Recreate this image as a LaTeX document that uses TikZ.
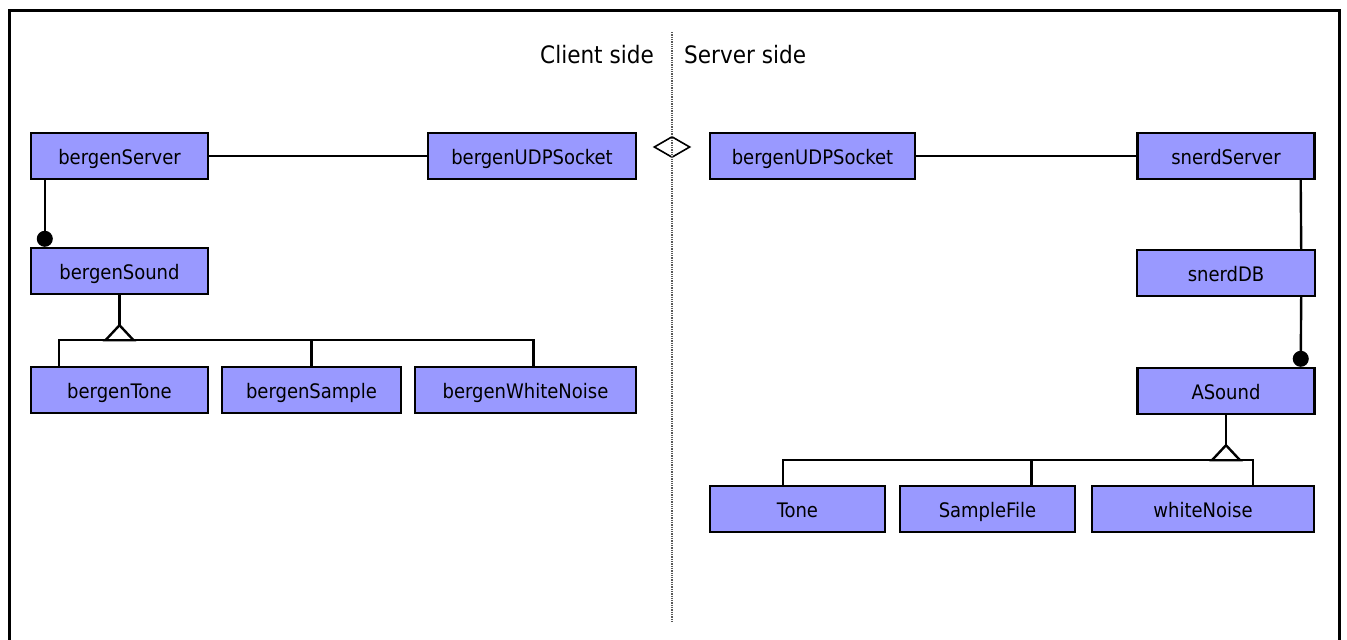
\documentclass[tikz,border=0pt]{standalone}
\usepackage{fontspec}
\setmainfont{DejaVu Sans Condensed}
\usetikzlibrary{arrows.meta, shapes.geometric}
\definecolor{classblue}{RGB}{153,153,255}
\begin{document}
\begin{tikzpicture}[x = 1pt, y = -1pt, line width = 2.4pt,
		cls/.style = {draw, fill = classblue, minimum height = 46pt, inner sep = 0pt, text height = 18pt, text depth = 2pt, font = \fontsize{20}{23}\selectfont},
		owns/.style = {-{Circle[length = 16pt]}},
		side/.style = {inner sep = 0pt, font = \fontsize{24}{28}\selectfont}]
	\useasboundingbox (0, 0) rectangle (1347, 640);
	\draw[line width = 3pt] (9, 641) |- (1339, 10) -- (1339, 641);
	% client side
	\foreach \n/\x/\y/\w/\t in {srv/119.5/156/177/bergenServer, cudp/532/156/208/bergenUDPSocket,
		sound/119.5/271/177/bergenSound, tone/119.5/390/177/bergenTone,
		sample/311.5/390/179/bergenSample, wnoise/525.5/390/221/bergenWhiteNoise}
	\node[cls, minimum width = \w pt] (\n) at (\x, \y) {\t};
	% server side
	\foreach \n/\x/\y/\w/\t in {sudp/812.5/156/205/bergenUDPSocket, snerd/1226/156/177/snerdServer,
		sdb/1226/273/178/snerdDB, asound/1226/391/177/ASound,
		stone/797.5/509/175/Tone, sfile/987.5/509/175/SampleFile, swnoise/1203/509/222/whiteNoise}
	\node[cls, minimum width = \w pt] (\n) at (\x, \y) {\t};
	\node[side, anchor = base east] (client) at (655, 63) {Client side};
	\node[side, anchor = base west] (server) at (683, 63) {Server side};
	\node[draw, diamond, fill = white, line width = 1.6pt, minimum width = 36pt, minimum height = 21pt, inner sep = 0pt] (link) at (672, 147) {};
	\draw[densely dotted, gray!70!black, line width = 1.3pt] (672, 32) -- (672, 621);
	% client connectors
	\draw (srv) -- (cudp);
	\draw[owns] ([xshift = 15pt]srv.south west) -- ([xshift = 15pt]sound.north west);
	\path (sound.south) ++(0, 30) coordinate (lapex) ++(0, 15) coordinate (lbus);
	\draw (sound) -- (lapex);
	\draw ([xshift = 29pt]tone.north west) |- ([xshift = 8pt]wnoise.north |- lbus) -- ([xshift = 8pt]wnoise.north);
	\draw (sample) -- (sample |- lbus);
	\draw[fill = white] (lapex) -- ++(-14, 15) -- ++(28, 0) -- cycle;
	% server connectors
	\draw (sudp) -- (snerd);
	\draw ([xshift = -15pt]snerd.south east) -- ([xshift = -15pt]sdb.north east);
	\draw[owns] ([xshift = -15pt]sdb.south east) -- ([xshift = -15pt]asound.north east);
	\path (asound.south) ++(0, 30) coordinate (rapex) ++(0, 15) coordinate (rbus);
	\draw (asound) -- (rapex);
	\draw ([xshift = 74pt]stone.north west) |- ([xshift = 50pt]swnoise.north |- rbus) -- ([xshift = 50pt]swnoise.north);
	\draw ([xshift = 44pt]sfile.north) -- ([xshift = 44pt]sfile.north |- rbus);
	\draw[fill = white] (rapex) -- ++(-14, 15) -- ++(28, 0) -- cycle;
\end{tikzpicture}
\end{document}
